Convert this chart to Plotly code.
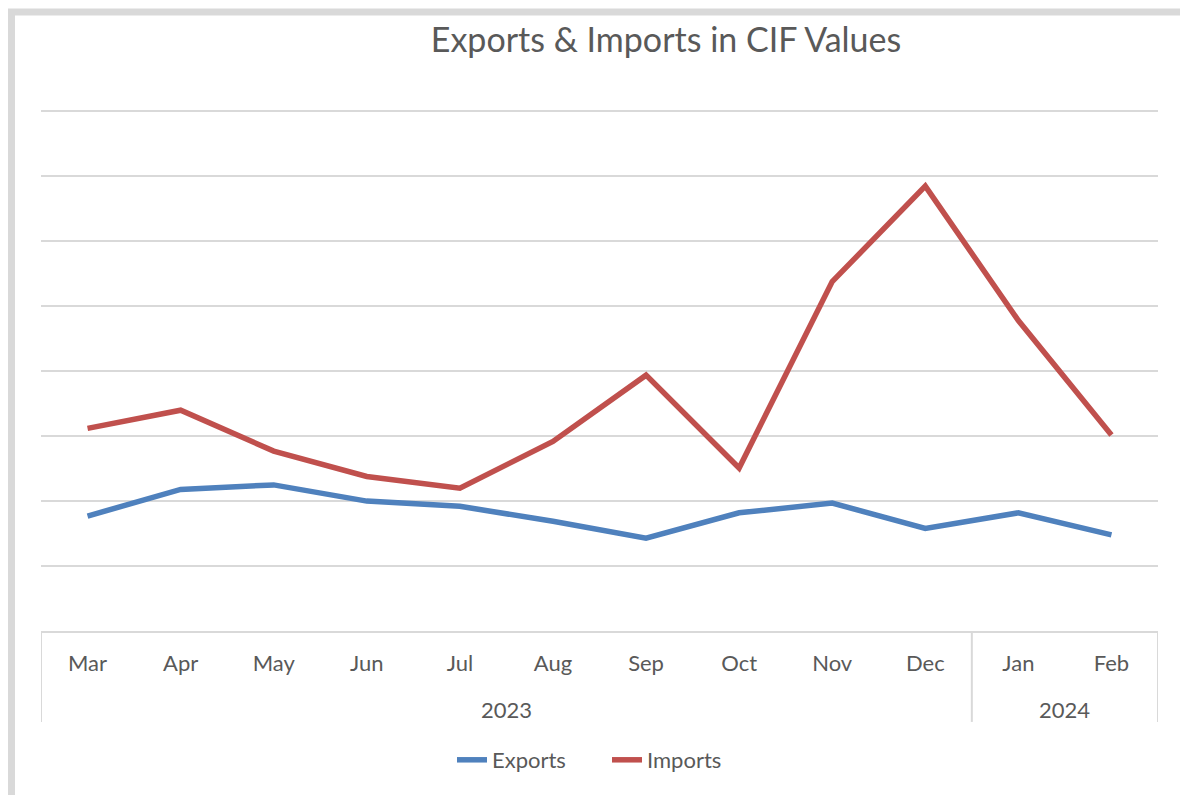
import plotly.graph_objects as go

months = ["Mar", "Apr", "May", "Jun", "Jul", "Aug", "Sep", "Oct", "Nov", "Dec", "Jan", "Feb"]
years = ["2023"] * 10 + ["2024"] * 2
exports = [1.77, 2.18, 2.25, 2.00, 1.92, 1.69, 1.43, 1.82, 1.97, 1.58, 1.82, 1.48]
imports = [3.12, 3.40, 2.77, 2.38, 2.20, 2.92, 3.94, 2.51, 5.38, 6.85, 4.78, 3.02]

xs = list(range(len(months)))
FONT = "Lato, 'Open Sans', sans-serif"
GREY = "#595959"
LINE = "#d9d9d9"

YMAX = 8.1
UNIT = 65.0
# page body has an 8px offset: work in figure coordinates = screen - 8
OFF = 8
W, H = 1188 - OFF, 795 - OFF
L, R = 41 - OFF, 1188 - 1158
B = 795 - 631
T = H - B - YMAX * UNIT
pw, ph = W - L - R, H - T - B
def px(x): return (x - OFF - L) / pw      # screen x -> paper
def py(y): return (H - B - (y - OFF)) / ph  # screen y -> paper

fig = go.Figure()
fig.add_trace(go.Scatter(x=xs, y=exports, mode="lines", name="Exports",
                         line=dict(color="#4F81BD", width=5.5)))
fig.add_trace(go.Scatter(x=xs, y=imports, mode="lines", name="Imports",
                         line=dict(color="#C0504D", width=5.5)))

# year groups
groups = []
for i, y in enumerate(years):
    if groups and groups[-1][0] == y:
        groups[-1][2] = i
    else:
        groups.append([y, i, i])

shapes = []
annotations = []
boundaries = [-0.5] + [g[2] + 0.5 for g in groups]
for b in boundaries:
    shapes.append(dict(type="line", xref="x", yref="paper", x0=b, x1=b, y0=0, y1=py(722),
                       line=dict(color=LINE, width=2)))
for name, a, b in groups:
    annotations.append(dict(x=(a + b) / 2, y=py(710), xref="x", yref="paper",
                            text=name, showarrow=False, yanchor="middle",
                            font=dict(family=FONT, size=22, color=GREY)))

# outer frame
shapes.append(dict(type="rect", xref="paper", yref="paper",
                   x0=px(11.5), x1=px(1186.5), y0=py(11.5), y1=py(830),
                   line=dict(color=LINE, width=7), layer="below"))

fig.update_layout(
    width=W, height=H,
    margin=dict(l=L, r=R, t=T, b=B),
    paper_bgcolor="white", plot_bgcolor="white",
    title=dict(text="Exports & Imports in CIF Values", x=(666 - OFF) / W, xanchor="center",
               y=1 - (40 - OFF) / H, yanchor="middle",
               font=dict(family=FONT, size=34, color=GREY)),
    xaxis=dict(range=[-0.5, len(months) - 0.5], tickvals=xs, ticktext=months,
               showgrid=False, zeroline=False, showline=True, linecolor=LINE, linewidth=2,
               ticks="", ticklabelstandoff=12,
               tickfont=dict(family=FONT, size=22, color=GREY), fixedrange=True),
    yaxis=dict(range=[0, YMAX], tickvals=list(range(1, 9)), showgrid=True, gridcolor=LINE,
               gridwidth=2, showticklabels=False, zeroline=False, showline=False,
               fixedrange=True),
    showlegend=True,
    legend=dict(orientation="h", x=(607 - OFF) / W, xref="container", xanchor="center",
                y=1 - (760 - OFF) / H, yref="container", yanchor="middle",
                font=dict(family=FONT, size=22, color=GREY), entrywidth=110),
    shapes=shapes, annotations=annotations,
)

fig.write_html("out.html")
